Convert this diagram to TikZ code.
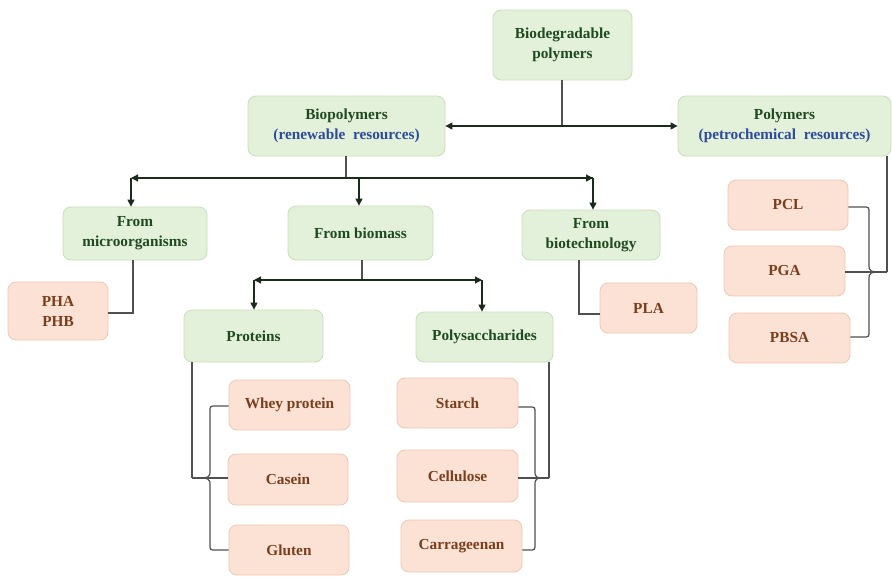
\documentclass[tikz,border=0pt]{standalone}
\usepackage{fontspec}
\setmainfont{Liberation Serif}
\usetikzlibrary{arrows.meta}
\definecolor{gfill}{HTML}{E3F0DA}
\definecolor{gdraw}{HTML}{C8DFB8}
\definecolor{ofill}{HTML}{FBE2D5}
\definecolor{odraw}{HTML}{F0C8B2}
\definecolor{gtext}{HTML}{1F4A1F}
\definecolor{otext}{HTML}{7A3E1C}
\definecolor{btext}{HTML}{2E4B9B}
\definecolor{lcol}{HTML}{505050}
\definecolor{acol}{HTML}{1B2B1B}
\begin{document}
\begin{tikzpicture}[x=1pt,y=-1pt,
  gbox/.style={draw=gdraw,fill=gfill,line width=0.8pt,rounded corners=8pt,align=center,
    font=\fontsize{15.3}{20}\selectfont\bfseries,text=gtext,inner sep=0pt},
  obox/.style={draw=odraw,fill=ofill,line width=0.8pt,rounded corners=8pt,align=center,
    font=\fontsize{15.3}{20}\selectfont\bfseries,text=otext,inner sep=0pt},
  conn/.style={draw=lcol,line width=1.2pt},
  arr/.style={draw=acol,line width=1.2pt,-{Triangle[length=7pt,width=7pt]}}]
\useasboundingbox[fill=white] (0,0) rectangle (892,576);
% green nodes
\node[gbox,minimum width=139,minimum height=70] (bd) at (562.5,45) {Biodegradable\\polymers};
\node[gbox,minimum width=197,minimum height=60] (bio) at (346.5,126) {Biopolymers\\\textcolor{btext}{(renewable\ \ resources)}};
\node[gbox,minimum width=213,minimum height=60] (pol) at (784.5,126) {Polymers\\\textcolor{btext}{(petrochemical\ \ resources)}};
\node[gbox,minimum width=144,minimum height=53] (mic) at (135,233.5) {From\\microorganisms};
\node[gbox,minimum width=145,minimum height=54] (bms) at (360.5,233) {From biomass};
\node[gbox,minimum width=138,minimum height=50] (btc) at (591,235) {From\\biotechnology};
\node[gbox,minimum width=139,minimum height=52] (prt) at (253.5,336) {Proteins};
\node[gbox,minimum width=137,minimum height=50] (pls) at (484.5,337) {Polysaccharides};
% orange nodes
\node[obox,minimum width=100,minimum height=58] (pha) at (58,311) {PHA\\PHB};
\node[obox,minimum width=97,minimum height=50] (pla) at (648.5,308) {PLA};
\node[obox,minimum width=121,minimum height=50] (why) at (289.5,405) {Whey protein};
\node[obox,minimum width=120,minimum height=51] (cas) at (288,479.5) {Casein};
\node[obox,minimum width=120,minimum height=50] (glu) at (289,550) {Gluten};
\node[obox,minimum width=121,minimum height=50] (sta) at (457.5,403) {Starch};
\node[obox,minimum width=121,minimum height=52] (cel) at (457.5,476) {Cellulose};
\node[obox,minimum width=121,minimum height=52] (car) at (461.5,546) {Carrageenan};
\node[obox,minimum width=120,minimum height=50] (pcl) at (788,205) {PCL};
\node[obox,minimum width=121,minimum height=50] (pga) at (784.5,271) {PGA};
\node[obox,minimum width=121,minimum height=50] (pbs) at (789.5,338) {PBSA};
% junction coordinates
\coordinate (j0) at (562,126);
\coordinate (j1) at (346,178);
\coordinate (c1l) at (131,178);
\coordinate (c1m) at (359,178);
\coordinate (c1r) at (593,178);
\coordinate (j2) at (362,280);
\coordinate (c2l) at (254,280);
\coordinate (c2r) at (482,280);
% top level
\draw[conn] (bd.south -| j0) -- (j0);
\draw[arr] (j0) -- (bio.east);
\draw[arr] (j0) -- (pol.west);
% biopolymers branches
\draw[conn] (bio.south -| j1) -- (j1);
\draw[arr] (c1r) -- (c1l);
\draw[arr] (j1) -- (c1r);
\draw[arr] (c1l) -- (c1l |- mic.north);
\draw[arr] (c1m) -- (c1m |- bms.north);
\draw[arr] (c1r) -- (c1r |- btc.north);
% biomass branches
\draw[conn] (bms.south -| j2) -- (j2);
\draw[arr] (j2) -- (c2l);
\draw[arr] (j2) -- (c2r);
\draw[arr] (c2l) -- (c2l |- prt.north);
\draw[arr] (c2r) -- (c2r |- pls.north);
% microorganisms -> PHA
\coordinate (m1) at (133,313);
\draw[conn] (mic.south -| m1) -- (m1) -- (m1 -| pha.east);
% biotechnology -> PLA
\coordinate (b1) at (579,314);
\draw[conn] (btc.south -| b1) -- (b1) -- (b1 -| pla.west);
% proteins brace
\coordinate (pt) at (192,478);
\draw[conn] (prt.south -| pt) -- (pt);
\draw[conn] (why.west |- 0,406) -- (216,406) .. controls (210,406) .. (210,412) -- (210,470)
  .. controls (210,478) .. (pt) .. controls (210,478) .. (210,486) -- (210,544)
  .. controls (210,550) .. (216,550) -- (glu.west |- 0,550);
\draw[conn] (pt) -- (cas.west |- pt);
% polysaccharides brace
\coordinate (st) at (549,478);
\draw[conn] (pls.south -| st) -- (st);
\draw[conn] (sta.east |- 0,407) -- (529,407) .. controls (535,407) .. (535,413) -- (535,470)
  .. controls (535,478) .. (st) .. controls (535,478) .. (535,486) -- (535,544)
  .. controls (535,550) .. (529,550) -- (car.east |- 0,550);
\draw[conn] (st) -- (cel.east |- st);
% polymers brace
\coordinate (pp) at (887,272);
\draw[conn] (pol.south -| pp) -- (pp);
\draw[conn] (pcl.east |- 0,207) -- (863,207) .. controls (869,207) .. (869,213) -- (869,264)
  .. controls (869,272) .. (pp) .. controls (869,272) .. (869,280) -- (869,331)
  .. controls (869,337) .. (863,337) -- (pbs.east |- 0,337);
\draw[conn] (pp) -- (pga.east |- pp);
\end{tikzpicture}
\end{document}
